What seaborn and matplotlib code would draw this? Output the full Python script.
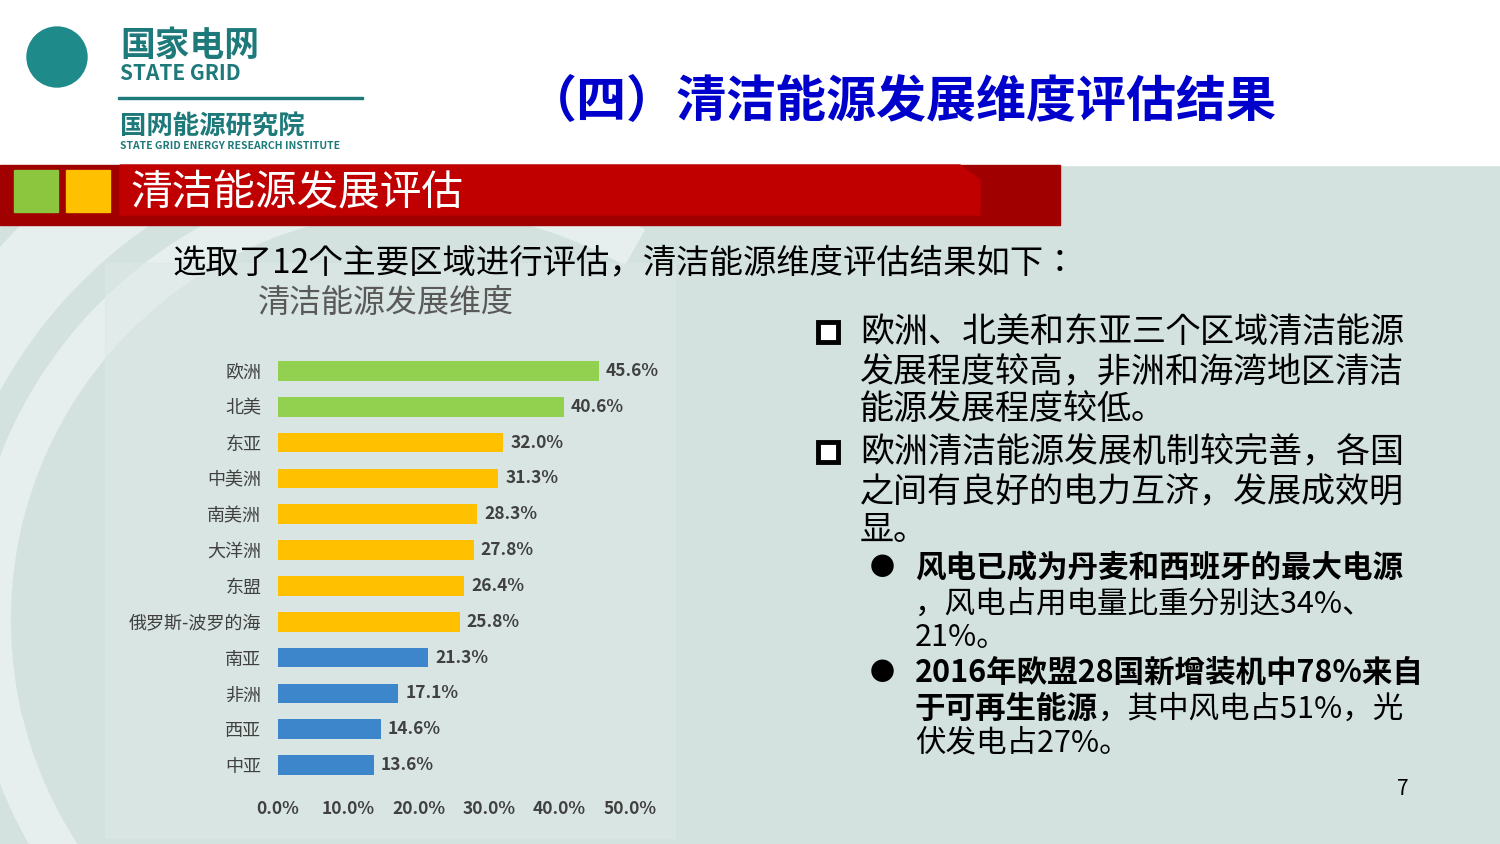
import matplotlib
matplotlib.use("Agg")
import matplotlib.pyplot as plt
import matplotlib.patches as mp
from matplotlib import font_manager as fm
import seaborn as sns
import pandas as pd

cjk = [f.name for f in fm.fontManager.ttflist if "CJK" in f.name]
pref = [n for n in ["Noto Sans CJK SC", "Noto Sans CJK JP", "Noto Sans CJK TC", "Noto Sans CJK KR"] if n in cjk] or cjk
plt.rcParams["font.family"] = "sans-serif"
plt.rcParams["font.sans-serif"] = pref[:1] + ["DejaVu Sans"]

regions = ["欧洲", "北美", "东亚", "中美洲", "南美洲", "大洋洲", "东盟", "俄罗斯-波罗的海", "南亚", "非洲", "西亚", "中亚"]
values = [45.6, 40.6, 32.0, 31.3, 28.3, 27.8, 26.4, 25.8, 21.3, 17.1, 14.6, 13.6]
groups = ["高"] * 2 + ["中"] * 6 + ["低"] * 4
palette = {"高": "#92D050", "中": "#FFC000", "低": "#3E86CC"}
xticks = [0, 10, 20, 30, 40, 50]

W, H = 1500, 844
fig = plt.figure(figsize=(15, 8.44), dpi=100)
fig.patch.set_facecolor("#D3E2DF")

def px(x, y, w, h):
    return (x / W, 1 - (y + h) / H, w / W, h / H)

bg = fig.add_axes([0, 0, 1, 1]); bg.set_xlim(0, W); bg.set_ylim(H, 0); bg.axis("off")
for r, lw in [(520, 60), (430, 30), (650, 25)]:
    bg.add_patch(mp.Arc((420, 620), 2 * r, 2 * r, theta1=90, theta2=300, color="#E6EFED", lw=lw))
bg.add_patch(mp.Rectangle((0, 0), W, 165, color="white"))
bg.add_patch(mp.Rectangle((0, 165), 1060, 60, color="#A00000"))
bg.add_patch(mp.Polygon([(120, 165), (960, 165), (980, 180), (980, 215), (120, 215)], color="#C00000"))
bg.add_patch(mp.Rectangle((14, 170), 44, 42, color="#8CC63F"))
bg.add_patch(mp.Rectangle((66, 170), 44, 42, color="#FFC000"))
bg.add_patch(mp.Rectangle((105, 263), 570, 575, color="#DDE8E6", alpha=0.5))
bg.add_patch(mp.Circle((57, 57), 30, color="#1E8A8A"))
bg.add_patch(mp.Rectangle((118, 97), 245, 1.5, color="#1E7A7A"))
bg.text(120, 45, "国家电网", fontsize=25, weight="bold", color="#1E7A7A", va="center")
bg.text(120, 74, "STATE GRID", fontsize=15, weight="bold", color="#1E7A7A", va="center")
bg.text(120, 126, "国网能源研究院", fontsize=19, weight="bold", color="#1E7A7A", va="center")
bg.text(120, 146, "STATE GRID ENERGY RESEARCH INSTITUTE", fontsize=7.5, weight="bold", color="#1E7A7A", va="center")
bg.text(902, 103, "（四）清洁能源发展维度评估结果", fontsize=36, weight="bold", color="#0000CC", ha="center", va="center")
bg.text(130, 193, "清洁能源发展评估", fontsize=30, color="white", va="center")
bg.text(172, 263, "选取了12个主要区域进行评估，清洁能源维度评估结果如下：", fontsize=24, color="black", va="center")
bg.text(258, 303, "清洁能源发展维度", fontsize=23, color="#595959", va="center")

lines = [(818, 332, True, "欧洲、北美和东亚三个区域清洁能源"), (818, 372, False, "发展程度较高，非洲和海湾地区清洁"),
         (818, 410, False, "能源发展程度较低。"), (818, 452, True, "欧洲清洁能源发展机制较完善，各国"),
         (818, 492, False, "之间有良好的电力互济，发展成效明"), (818, 530, False, "显。")]
for x, y, b, t in lines:
    if b:
        bg.add_patch(mp.Rectangle((x, y - 10), 20, 20, facecolor="white", edgecolor="black", lw=3.5))
    bg.text(860, y, t, fontsize=24.5, color="black", va="center")
bg.text(870, 568, "●", fontsize=18, va="center")
bg.text(915, 568, "风电已成为丹麦和西班牙的最大电源", fontsize=22, weight="bold", va="center")
bg.text(915, 604, "，风电占用电量比重分别达34%、", fontsize=22, va="center")
bg.text(915, 638, "21%。", fontsize=22, va="center")
bg.text(870, 673, "●", fontsize=18, va="center")
bg.text(915, 673, "2016年欧盟28国新增装机中78%来自", fontsize=22, weight="bold", va="center")
bg.text(915, 709, "于可再生能源", fontsize=22, weight="bold", va="center")
bg.text(1098, 709, "，其中风电占51%，光", fontsize=22, va="center")
bg.text(915, 743, "伏发电占27%。", fontsize=22, va="center")
bg.text(1403, 789, "7", fontsize=15, ha="center", va="center")

df = pd.DataFrame({"region": regions, "value": values, "group": groups})
ax = fig.add_axes(px(278, 353, 352, 430))
sns.barplot(data=df, x="value", y="region", hue="group", palette=palette, dodge=False,
            legend=False, ax=ax, width=0.55, order=regions, saturation=1)
ax.set_xlim(0, 50)
ax.set_facecolor("none")
for s in ax.spines.values():
    s.set_visible(False)
ax.set_xticks(xticks)
ax.set_xticklabels([f"{v:.1f}%" for v in xticks], fontsize=12.5, weight="bold", color="#404040")
ax.tick_params(axis="x", length=0, pad=12)
ax.tick_params(axis="y", length=0, pad=12, labelsize=13, labelcolor="#404040")
ax.set_xlabel(""); ax.set_ylabel("")
for i, v in enumerate(values):
    ax.text(v + 1, i, f"{v:.1f}%", va="center", fontsize=12.5, weight="bold", color="#404040")

fig.savefig("out.png", dpi=100, facecolor=fig.get_facecolor())
